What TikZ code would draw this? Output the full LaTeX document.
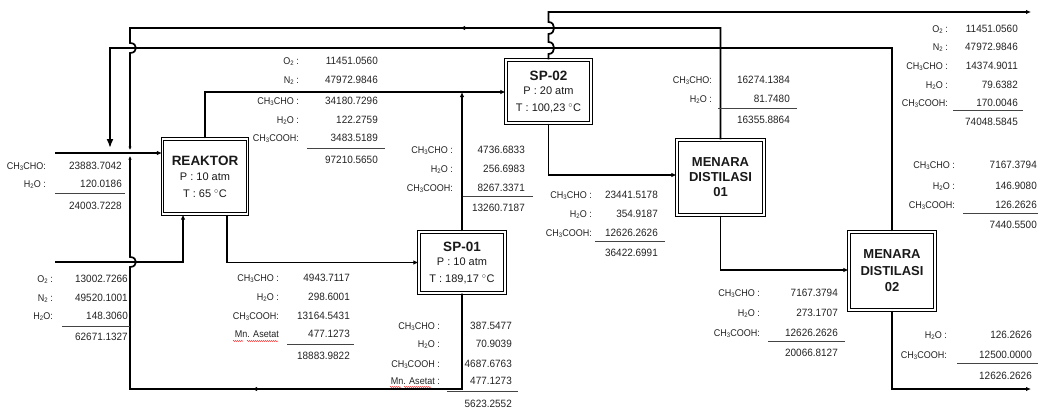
\documentclass[tikz,border=0pt]{standalone}
\usepackage{fontspec}
\setmainfont{Liberation Sans}
\newfontfamily\lblfont[FakeStretch=0.92]{Liberation Sans}
\newfontfamily\numfont[FakeStretch=0.94]{Liberation Sans}
\usetikzlibrary{arrows.meta,decorations.pathmorphing}
\definecolor{txt}{HTML}{222222}
\definecolor{ulc}{HTML}{444444}
\newcommand\chs[1]{\raisebox{-0.1ex}{\fontsize{6.5}{6.5}\selectfont #1}}
\newcommand\trow[6]{\node[lbl] (#1l) at (#2,#4) {#5}; \node[val] (#1v) at (#3,#4) {#6};}
\newcommand\bt[1]{{\bfseries\fontsize{13.5}{15}\selectfont #1}}
\newcommand\dg{${}^{\circ}$}
\begin{document}
\begin{tikzpicture}[x=1pt,y=-1pt,
 conn/.style={line width=1.7pt,draw=black},
 tip/.style={-{Latex[length=5pt,width=4.5pt]}},
 smalltip/.style={-{Latex[length=3.5pt,width=3.5pt]}},
 bigtip/.style={-{Latex[length=9pt,width=7pt]}},
 boxst/.style={draw=black,line width=1.2pt,double=white,double distance=1.4pt,inner sep=0pt,align=center,text=black!90,font=\fontsize{11}{17}\selectfont},
 mdbox/.style={boxst,font=\bfseries\fontsize{13}{#1}\selectfont},
 lbl/.style={anchor=mid east,inner sep=0pt,font=\lblfont\fontsize{9.8}{10}\selectfont,text=txt},
 val/.style={anchor=mid east,inner sep=0pt,font=\numfont\fontsize{10.6}{11}\selectfont,text=txt},
 uline/.style={draw=ulc,line width=0.8pt},
 squig/.style={draw=red,line width=0.5pt,decorate,decoration={snake,amplitude=0.5pt,segment length=2pt}}]
\useasboundingbox (0,0) rectangle (1046,412);

% ---------- boxes ----------
\node[boxst,minimum width=85pt,minimum height=75pt] (R) at (205,176.5)
  {\bt{REAKTOR}\\[-2pt]P : 10 atm\\T : 65 \dg C};
\node[boxst,minimum width=85pt,minimum height=63pt] (SP02) at (548.5,91.5)
  {\bt{SP-02}\\[-3pt]P : 20 atm\\T : 100,23 \dg C};
\node[boxst,minimum width=86pt,minimum height=61pt] (SP01) at (462,262.5)
  {\bt{SP-01}\\[-3pt]P : 10 atm\\T : 189,17 \dg C};
\node[mdbox=15,minimum width=87pt,minimum height=75pt] (MD01) at (720.5,177.5)
  {MENARA\\DISTILASI\\01};
\node[mdbox=16.5,minimum width=86pt,minimum height=78pt] (MD02) at (892,271)
  {MENARA\\DISTILASI\\02};

% ---------- coordinates ----------
\coordinate (fA) at (55,153);
\coordinate (fB) at (55,262);
\coordinate (rin) at (183,262);
\coordinate (rt) at (205,92);
\coordinate (rb) at (227,262.5);
\coordinate (rc1) at (462,389);
\coordinate (rc2) at (130,389);
\coordinate (s2b) at (548.5,175);
\coordinate (og) at (1031,12);
\coordinate (m1t) at (720.5,28);
\coordinate (m1b) at (720.5,270);
\coordinate (m2t) at (892,48);
\coordinate (m2b) at (892,389);
\coordinate (lb) at (1031,389);

% ---------- connectors ----------
\draw[conn,tip] (fA) -- (fA -| R.west);
\draw[conn,tip] (fB) -- (rin) -- (rin |- R.south);
\draw[conn,tip] (rt |- R.north) -- (rt) -- (rt -| SP02.west);
\draw[conn,tip] (rb |- R.south) -- (rb) -- (rb -| SP01.west);
\draw[conn,tip] (SP01.north) -- (SP01.north |- rt);
\draw[conn,smalltip] (SP01.south) -- (rc1) -- (rc2) -- (130,267)
  .. controls (138,267) and (138,257) .. (130,257) -- (130,156);
\draw[conn,tip] (262,389) -- (252,389);
\draw[conn,tip] (SP02.south) -- (s2b) -- (s2b -| MD01.west);
\draw[conn,tip] (SP02.north) -- (548.5,54)
  .. controls (556,54) and (556,42) .. (548.5,42) -- (548.5,34)
  .. controls (556,34) and (556,22) .. (548.5,22) -- (548.5,12) -- (og);
\draw[conn,smalltip] (MD01.north) -- (m1t) -- (130,28) -- (130,43)
  .. controls (138,43) and (138,53) .. (130,53) -- (130,150);
\draw[conn,tip] (470,28) -- (460,28);
\draw[conn,tip] (MD01.south) -- (m1b) -- (m1b -| MD02.west);
\draw[conn,bigtip] (MD02.north) -- (m2t) -- (110,48) -- (110,148);
\draw[conn,tip] (MD02.south) -- (m2b) -- (lb);

% ---------- stream tables ----------
% A : fresh feed
\trow{a1}{46}{122}{167}{CH\chs{3}CHO:}{23883.7042}
\trow{a2}{46}{122}{185}{H\chs{2}O :}{120.0186}
\draw[uline] (55,193) -- (125,193);
\node[val] (aT) at (122,207) {24003.7228};
% B : air feed
\trow{b1}{53}{128}{280}{O\chs{2} :}{13002.7266}
\trow{b2}{53}{128}{299}{N\chs{2} :}{49520.1001}
\trow{b3}{53}{128}{317}{H\chs{2}O:}{148.3060}
\draw[uline] (62,326) -- (130,326);
\node[val] (bT) at (128,338) {62671.1327};
% C : reaktor -> SP-01
\trow{c1}{279}{350}{279}{CH\chs{3}CHO :}{4943.7117}
\trow{c2}{279}{350}{298}{H\chs{2}O :}{298.6001}
\trow{c3}{279}{350}{317}{CH\chs{3}COOH:}{13164.5431}
\trow{c4}{279}{350}{335}{Mn. Asetat}{477.1273}
\draw[squig] (233,341) -- (243,341);
\draw[squig] (247,341) -- (278,341);
\draw[uline] (287,344) -- (354,344);
\node[val] (cT) at (350,357) {18883.9822};
% D : reaktor -> SP-02
\trow{d1}{299}{378}{62}{O\chs{2} :}{11451.0560}
\trow{d2}{299}{378}{81}{N\chs{2} :}{47972.9846}
\trow{d3}{299}{378}{102}{CH\chs{3}CHO :}{34180.7296}
\trow{d4}{299}{378}{121}{H\chs{2}O :}{122.2759}
\trow{d5}{299}{378}{139}{CH\chs{3}COOH:}{3483.5189}
\draw[uline] (307,148) -- (385,148);
\node[val] (dT) at (378,161) {97210.5650};
% E : SP-01 top
\trow{e1}{453}{525}{151}{CH\chs{3}CHO :}{4736.6833}
\trow{e2}{453}{525}{170}{H\chs{2}O :}{256.6983}
\trow{e3}{453}{525}{189}{CH\chs{3}COOH:}{8267.3371}
\draw[uline] (463,196) -- (533,196);
\node[val] (eT) at (525,209) {13260.7187};
% F : SP-02 bottom
\trow{f1}{592}{658}{196}{CH\chs{3}CHO :}{23441.5178}
\trow{f2}{592}{658}{215}{H\chs{2}O :}{354.9187}
\trow{f3}{592}{658}{234}{CH\chs{3}COOH:}{12626.2626}
\draw[uline] (595,241) -- (665,241);
\node[val] (fT) at (658,254) {36422.6991};
% G : SP-01 bottom
\trow{g1}{440}{512}{327}{CH\chs{3}CHO :}{387.5477}
\trow{g2}{440}{512}{345}{H\chs{2}O :}{70.9039}
\trow{g3}{440}{512}{365}{CH\chs{3}COOH :}{4687.6763}
\trow{g4}{440}{512}{382}{Mn. Asetat :}{477.1273}
\draw[squig] (390,387) -- (401,387);
\draw[squig] (404,387) -- (431,387);
\draw[uline] (447,391) -- (518,391);
\node[val] (gT) at (512,405) {5623.2552};
% H : MD-01 top
\trow{h1}{712}{790}{81}{CH\chs{3}CHO:}{16274.1384}
\trow{h2}{712}{790}{100}{H\chs{2}O :}{81.7480}
\draw[uline] (718,108) -- (797,108);
\node[val] (hT) at (790,121) {16355.8864};
% I : off gas
\trow{i1}{948}{1018}{30}{O\chs{2} :}{11451.0560}
\trow{i2}{948}{1018}{48}{N\chs{2} :}{47972.9846}
\trow{i3}{948}{1018}{67}{CH\chs{3}CHO :}{14374.9011}
\trow{i4}{948}{1018}{86}{H\chs{2}O :}{79.6382}
\trow{i5}{948}{1018}{104}{CH\chs{3}COOH:}{170.0046}
\draw[uline] (953,110) -- (1023,110);
\node[val] (iT) at (1018,123) {74048.5845};
% J : MD-02 top
\trow{j1}{955}{1037}{166}{CH\chs{3}CHO :}{7167.3794}
\trow{j2}{955}{1037}{187}{H\chs{2}O :}{146.9080}
\trow{j3}{955}{1037}{206}{CH\chs{3}COOH:}{126.2626}
\draw[uline] (963,213) -- (1038,213);
\node[val] (jT) at (1037,226) {7440.5500};
% K : MD-01 bottom
\trow{k1}{760}{838}{294}{CH\chs{3}CHO :}{7167.3794}
\trow{k2}{760}{838}{314}{H\chs{2}O :}{273.1707}
\trow{k3}{760}{838}{334}{CH\chs{3}COOH:}{12626.2626}
\draw[uline] (768,341) -- (845,341);
\node[val] (kT) at (838,354) {20066.8127};
% L : MD-02 bottom
\trow{l1}{947}{1032}{336}{H\chs{2}O :}{126.2626}
\trow{l2}{947}{1032}{356}{CH\chs{3}COOH:}{12500.0000}
\draw[uline] (957,363) -- (1038,363);
\node[val] (lT) at (1032,377) {12626.2626};
\end{tikzpicture}
\end{document}
